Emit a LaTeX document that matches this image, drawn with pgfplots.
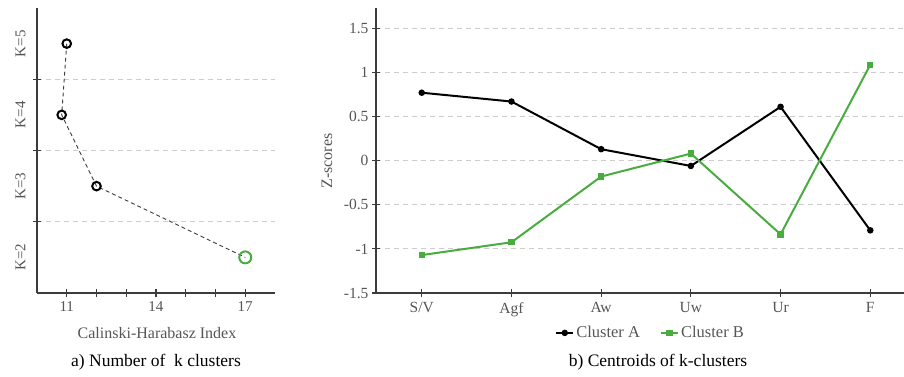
\documentclass[border=0pt]{standalone}
\usepackage{pgfplots}
\pgfplotsset{compat=1.18}
\usepackage{fontspec}
\setmainfont{Liberation Serif}
\definecolor{cgreen}{RGB}{72,172,62}
\definecolor{axgray}{RGB}{60,60,60}
\definecolor{txtgray}{RGB}{85,85,85}
\definecolor{gridgray}{RGB}{205,205,205}
\begin{document}
\begin{tikzpicture}[x=1pt,y=1pt]
\useasboundingbox (0,0) rectangle (904,376);
% ---------- left panel ----------
\begin{axis}[
  at={(37pt,83pt)}, anchor=south west, scale only axis,
  width=238pt, height=285pt,
  xmin=10, xmax=18, ymin=0, ymax=4,
  axis x line=bottom, axis y line=left,
  axis line style={-, axgray, line width=1.2pt},
  xtick={11,12,13,14,15,16,17},
  xticklabels={11,,,14,,,17},
  ytick={1,2,3},
  yticklabels={},
  ymajorgrids,
  major grid style={gridgray, dash pattern=on 5pt off 4pt, line width=0.8pt},
  extra y ticks={0.5,1.5,2.5,3.5},
  extra y tick labels={K=2,K=3,K=4,K=5},
  extra y tick style={grid=none, major tick length=0pt,
    yticklabel style={font=\fontsize{15}{15}\selectfont, text=txtgray, rotate=90, anchor=south, yshift=8pt}},
  tick style={axgray, line width=1.1pt},
  major tick length=8pt, tick align=center,
  xticklabel style={font=\fontsize{15}{15}\selectfont, text=txtgray, yshift=-1pt},
  clip=false,
]
\addplot[axgray, line width=0.9pt, dash pattern=on 4pt off 3pt, mark=none]
  coordinates {(11.0,3.5) (10.83,2.5) (12.0,1.5) (17.0,0.5)};
\addplot[only marks, mark=o, mark size=4.3pt, black, line width=2pt]
  coordinates {(11.0,3.5) (10.83,2.5) (12.0,1.5)};
\addplot[only marks, mark=o, mark size=6pt, cgreen, line width=2pt]
  coordinates {(17.0,0.5)};
\end{axis}
\node[text=txtgray, font=\fontsize{16}{16}\selectfont] at (157pt,43pt) {Calinski-Harabasz Index};
\node[black, font=\fontsize{17.5}{17.5}\selectfont] at (156pt,14pt) {a) Number of\ \ k clusters};
% ---------- right panel ----------
\begin{axis}[
  at={(376pt,83pt)}, anchor=south west, scale only axis,
  width=528pt, height=285pt,
  xmin=-0.51, xmax=5.376, ymin=-1.5, ymax=1.73,
  axis x line=bottom, axis y line=left,
  axis line style={-, axgray, line width=1.2pt},
  xtick={0,1,2,3,4,5},
  xticklabels={S/V,Agf,Aw,Uw,Ur,F},
  ytick={-1.5,-1,-0.5,0,0.5,1,1.5},
  yticklabels={-1.5,-1,-0.5,0,0.5,1,1.5},
  ymajorgrids,
  major grid style={gridgray, dash pattern=on 5pt off 4pt, line width=0.8pt},
  tick style={axgray, line width=1.1pt},
  major tick length=8pt, tick align=center,
  xticklabel style={font=\fontsize{15.5}{15.5}\selectfont, text=txtgray, yshift=-2pt},
  yticklabel style={font=\fontsize{15.5}{15.5}\selectfont, text=txtgray},
  legend columns=2,
  legend style={draw=none, fill=none, at={(0.52,-0.14)}, anchor=center,
    font=\fontsize{16.5}{16.5}\selectfont, text=txtgray,
    /tikz/every even column/.append style={column sep=18pt}},
  legend cell align=left,
  clip=false,
]
\addplot[black, line width=2pt, mark=*, mark size=2.2pt]
  coordinates {(0,0.77) (1,0.67) (2,0.13) (3,-0.06) (4,0.61) (5,-0.79)};
\addlegendentry{Cluster A}
\addplot[cgreen, line width=2pt, mark=square*, mark size=2.2pt]
  coordinates {(0,-1.07) (1,-0.925) (2,-0.18) (3,0.08) (4,-0.835) (5,1.087)};
\addlegendentry{Cluster B}
\end{axis}
\node[rotate=90, text=txtgray, font=\fontsize{16}{16}\selectfont] at (327pt,215pt) {Z-scores};
\node[black, font=\fontsize{17.5}{17.5}\selectfont] at (658pt,14pt) {b) Centroids of k-clusters};
\end{tikzpicture}
\end{document}
